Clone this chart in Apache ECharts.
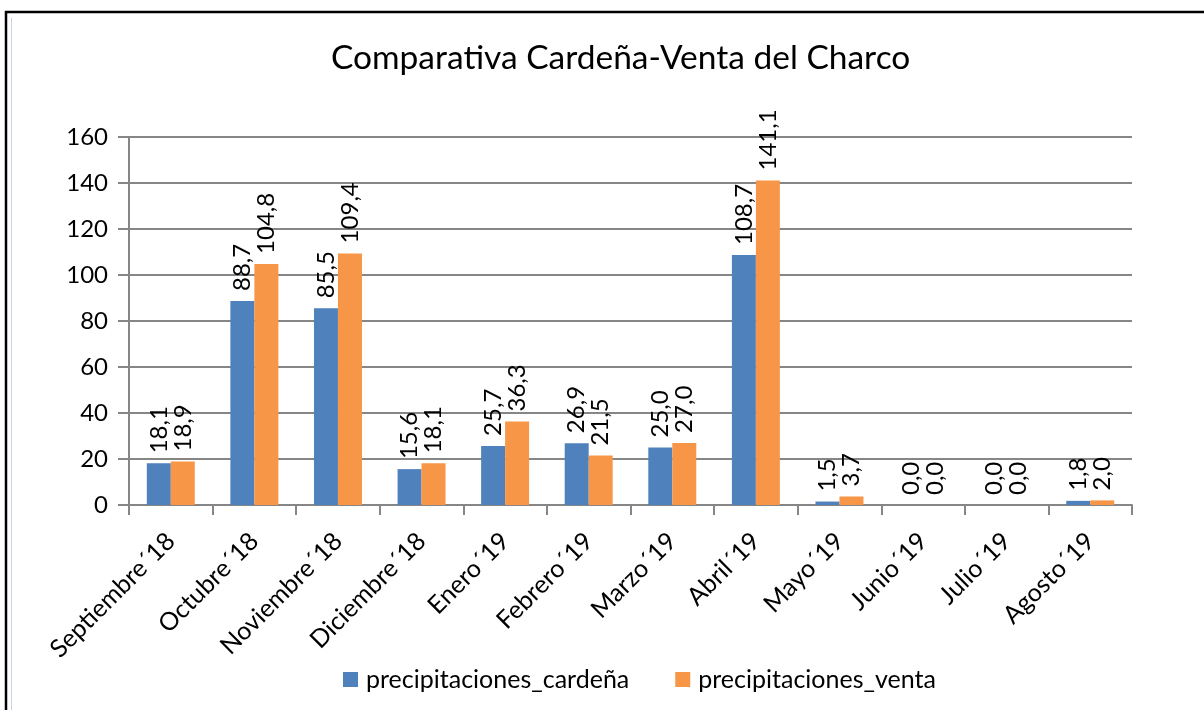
<!DOCTYPE html>
<html>
<head>
<meta charset="utf-8">
<script src="https://cdn.jsdelivr.net/npm/echarts@6/dist/echarts.min.js"></script>
<style>
html,body{margin:0;padding:0;background:#fff;}
#c{width:1204px;height:710px;}
</style>
</head>
<body>
<div id="c"></div>
<script>
const categories = ['Septiembre´18','Octubre´18','Noviembre´18','Diciembre´18','Enero´19','Febrero´19','Marzo´19','Abril´19','Mayo´19','Junio´19','Julio´19','Agosto´19'];
const cardena = [18.1, 88.7, 85.5, 15.6, 25.7, 26.9, 25.0, 108.7, 1.5, 0.0, 0.0, 1.8];
const venta = [18.9, 104.8, 109.4, 18.1, 36.3, 21.5, 27.0, 141.1, 3.7, 0.0, 0.0, 2.0];
const seriesNames = ['precipitaciones_cardeña', 'precipitaciones_venta'];
const yTicks = [0, 20, 40, 60, 80, 100, 120, 140, 160];
const titleText = 'Comparativa Cardeña-Venta del Charco';

const FONT = 'Lato';
const fmt = v => Number(v).toFixed(1).replace('.', ',');
const labelCfg = {
  show: true, position: 'top', rotate: 90, align: 'left', verticalAlign: 'middle',
  distance: 10, fontFamily: FONT, fontSize: 24, color: '#000',
  formatter: p => fmt(p.value)
};
const chart = echarts.init(document.getElementById('c'), null, {renderer: 'canvas'});
chart.setOption({
  animation: false,
  backgroundColor: '#fff',
  title: {
    text: titleText, left: 326, top: 36,
    textStyle: {fontFamily: FONT, fontSize: 33.5, fontWeight: 'normal', color: '#000'}
  },
  legend: {
    top: 662, left: 338, itemWidth: 15, itemHeight: 15, itemGap: 46,
    icon: 'rect',
    textStyle: {fontFamily: FONT, fontSize: 25, color: '#000', padding: [0, 0, 0, 3]},
    data: seriesNames
  },
  grid: {left: 129, right: 72, top: 137, bottom: 205, containLabel: false},
  xAxis: {
    type: 'category', data: categories,
    axisLine: {lineStyle: {color: '#868686', width: 2}},
    axisTick: {show: true, length: 10, lineStyle: {color: '#868686', width: 2}},
    axisLabel: {rotate: 45, margin: 32, fontFamily: FONT, fontSize: 25, color: '#000', interval: 0}
  },
  yAxis: {
    type: 'value', min: yTicks[0], max: yTicks[yTicks.length - 1], interval: 20,
    axisLine: {show: true, lineStyle: {color: '#868686', width: 2}},
    axisTick: {show: true, length: 11, lineStyle: {color: '#868686', width: 2}},
    axisLabel: {margin: 21, fontFamily: FONT, fontSize: 24, color: '#000'},
    splitLine: {show: true, lineStyle: {color: '#868686', width: 2}}
  },
  series: [
    {name: seriesNames[0], type: 'bar', data: cardena, barGap: '0%', barCategoryGap: '42.6%',
     itemStyle: {color: '#4F81BD'}, label: labelCfg},
    {name: seriesNames[1], type: 'bar', data: venta, barGap: '0%', barCategoryGap: '42.6%',
     itemStyle: {color: '#F79646'}, label: labelCfg}
  ],
  graphic: [
    {type: 'rect', shape: {x: 6, y: 12, width: 1210, height: 720}, style: {fill: 'none', stroke: '#000', lineWidth: 2.5}, silent: true},
    {type: 'line', shape: {x1: 11.5, y1: 18, x2: 11.5, y2: 720}, style: {stroke: '#c5d3e6', lineWidth: 1}, silent: true}
  ]
});
</script>
</body>
</html>
